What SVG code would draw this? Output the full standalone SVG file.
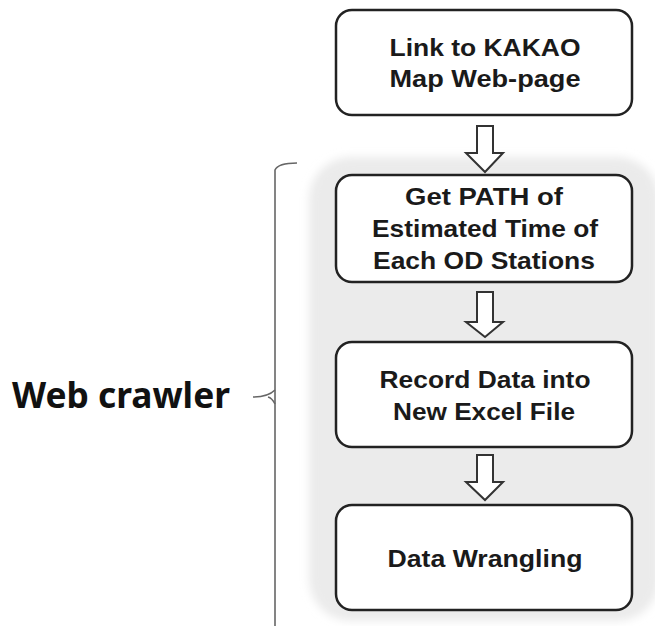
<svg xmlns="http://www.w3.org/2000/svg" width="655" height="626" viewBox="0 0 655 626">
<defs>
<filter id="soft" x="-10%" y="-10%" width="120%" height="120%"><feGaussianBlur stdDeviation="4"/></filter>
<style>
.box{fill:#fff;stroke:#222;stroke-width:2.5}
.t{font-family:"Liberation Sans",Arial,sans-serif;font-weight:bold;font-size:24px;fill:#1a1a1a;text-anchor:middle}
.arr{fill:#fff;stroke:#333;stroke-width:2;stroke-linejoin:miter}
.br{fill:none;stroke:#666;stroke-width:1.6}
</style>
</defs>
<rect width="655" height="626" fill="#fff"/>
<g id="background">
<rect x="309" y="157" width="350" height="464" rx="42" fill="#ebebeb" filter="url(#soft)"/>
</g>
<g id="bracket">
<path class="br" d="M297,163 Q278,163 275,170 L275,626"/>
<path class="br" d="M253,397 Q268,397 275,390 M268,397 Q272,398 275,404"/>
<text x="12" y="408" textLength="218" lengthAdjust="spacingAndGlyphs" style="font-family:'Noto Sans','Open Sans',sans-serif;font-weight:bold;font-size:36px;fill:#111">Web crawler</text>
</g>
<g id="connectors">
<path class="arr" d="M477,126 L493,126 L493,153 L503,153 L485,172 L466,153 L477,153 Z"/>
<path class="arr" d="M477,292 L493,292 L493,322 L503,322 L485,337 L466,322 L477,322 Z"/>
<path class="arr" d="M477,455 L493,455 L493,482 L503,482 L485,500 L466,482 L477,482 Z"/>
</g>
<g id="node1">
<rect class="box" x="336" y="10" width="296" height="105" rx="16"/>
<text class="t" x="485" y="56" textLength="191" lengthAdjust="spacingAndGlyphs">Link to KAKAO</text>
<text class="t" x="485" y="87" textLength="191" lengthAdjust="spacingAndGlyphs">Map Web-page</text>
</g>
<g id="node2">
<rect class="box" x="336" y="175" width="296" height="107" rx="16"/>
<text class="t" x="484" y="205" textLength="158" lengthAdjust="spacingAndGlyphs">Get PATH of</text>
<text class="t" x="485" y="237" textLength="226" lengthAdjust="spacingAndGlyphs">Estimated Time of</text>
<text class="t" x="484" y="269" textLength="222" lengthAdjust="spacingAndGlyphs">Each OD Stations</text>
</g>
<g id="node3">
<rect class="box" x="336" y="342" width="296" height="105" rx="16"/>
<text class="t" x="485" y="388" textLength="211" lengthAdjust="spacingAndGlyphs">Record Data into</text>
<text class="t" x="484" y="420" textLength="182" lengthAdjust="spacingAndGlyphs">New Excel File</text>
</g>
<g id="node4">
<rect class="box" x="336" y="505" width="296" height="105" rx="16"/>
<text class="t" x="485" y="567" textLength="195" lengthAdjust="spacingAndGlyphs">Data Wrangling</text>
</g>
</svg>
